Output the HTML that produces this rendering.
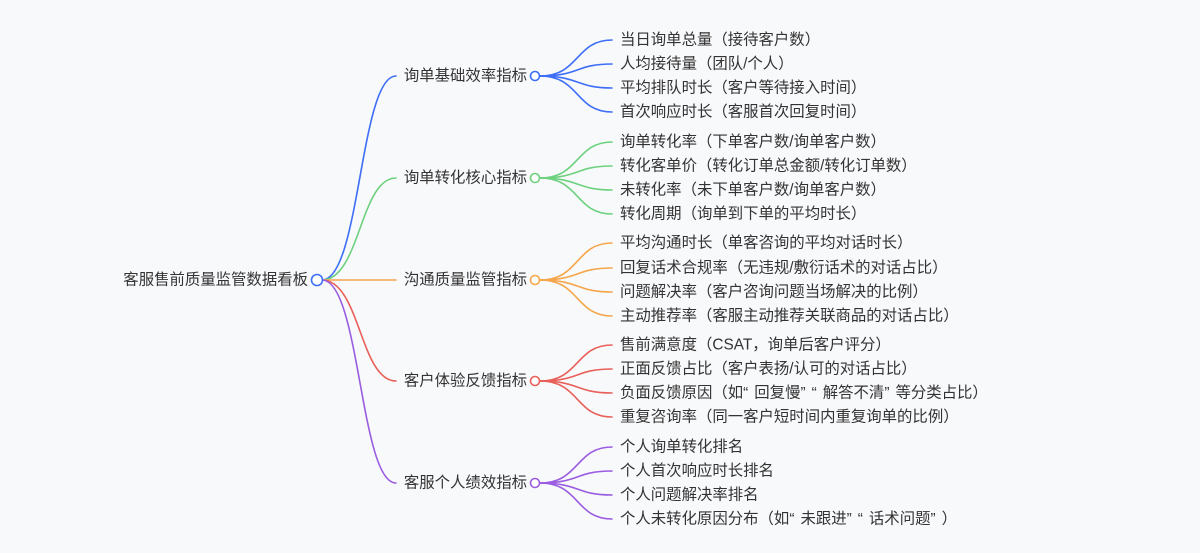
<!DOCTYPE html>
<html><head><meta charset="utf-8"><style>
html,body{margin:0;padding:0;background:#f8f9fb;}
svg{display:block}
text{font-family:"Liberation Sans","Noto Sans CJK SC",sans-serif;font-size:15.4px;fill:#333;dominant-baseline:central}
.q{letter-spacing:6px}
</style></head><body>
<svg width="1200" height="553" viewBox="0 0 1200 553" xmlns="http://www.w3.org/2000/svg">
<g fill="none" stroke-width="1.6" stroke-linecap="round">
<path d="M322 280 C360 280 360 76 396 76" stroke="#3d6ef5"/>
<path d="M322 280 C360 280 360 178 396 178" stroke="#6dd17f"/>
<path d="M322 280 L396 280" stroke="#f5a64a"/>
<path d="M322 280 C360 280 360 381 396 381" stroke="#e9605a"/>
<path d="M322 280 C360 280 360 483 396 483" stroke="#9a5de0"/>
<g stroke="#3d6ef5"><path d="M540 76 C580 76 575 40 612 40"/><path d="M540 76 C580 76 575 64 612 64"/><path d="M540 76 C580 76 575 88 612 88"/><path d="M540 76 C580 76 575 112 612 112"/></g>
<g stroke="#6dd17f"><path d="M540 178 C580 178 575 142 612 142"/><path d="M540 178 C580 178 575 166 612 166"/><path d="M540 178 C580 178 575 190 612 190"/><path d="M540 178 C580 178 575 214 612 214"/></g>
<g stroke="#f5a64a"><path d="M540 280 C580 280 575 243 612 243"/><path d="M540 280 C580 280 575 268 612 268"/><path d="M540 280 C580 280 575 292 612 292"/><path d="M540 280 C580 280 575 316 612 316"/></g>
<g stroke="#e9605a"><path d="M540 381 C580 381 575 345 612 345"/><path d="M540 381 C580 381 575 369 612 369"/><path d="M540 381 C580 381 575 393 612 393"/><path d="M540 381 C580 381 575 417 612 417"/></g>
<g stroke="#9a5de0"><path d="M540 483 C580 483 575 447 612 447"/><path d="M540 483 C580 483 575 471 612 471"/><path d="M540 483 C580 483 575 495 612 495"/><path d="M540 483 C580 483 575 519 612 519"/></g>
</g>
<g fill="#fff" stroke-width="1.6">
<circle cx="317" cy="280" r="5.5" stroke="#3d6ef5"/>
<circle cx="535" cy="76" r="4.5" stroke="#3d6ef5"/>
<circle cx="535" cy="178" r="4.5" stroke="#6dd17f"/>
<circle cx="535" cy="280" r="4.5" stroke="#f5a64a"/>
<circle cx="535" cy="381" r="4.5" stroke="#e9605a"/>
<circle cx="535" cy="483" r="4.5" stroke="#9a5de0"/>
</g>
<text x="308" y="280" text-anchor="end">客服售前质量监管数据看板</text>
<g text-anchor="end">
<text x="527" y="76">询单基础效率指标</text>
<text x="527" y="178">询单转化核心指标</text>
<text x="527" y="280">沟通质量监管指标</text>
<text x="527" y="381">客户体验反馈指标</text>
<text x="527" y="483">客服个人绩效指标</text>
</g>
<g>
<text x="620" y="40">当日询单总量（接待客户数）</text>
<text x="620" y="64">人均接待量（团队/个人）</text>
<text x="620" y="88">平均排队时长（客户等待接入时间）</text>
<text x="620" y="112">首次响应时长（客服首次回复时间）</text>
<text x="620" y="142">询单转化率（下单客户数/询单客户数）</text>
<text x="620" y="166">转化客单价（转化订单总金额/转化订单数）</text>
<text x="620" y="190">未转化率（未下单客户数/询单客户数）</text>
<text x="620" y="214">转化周期（询单到下单的平均时长）</text>
<text x="620" y="243">平均沟通时长（单客咨询的平均对话时长）</text>
<text x="620" y="268">回复话术合规率（无违规/敷衍话术的对话占比）</text>
<text x="620" y="292">问题解决率（客户咨询问题当场解决的比例）</text>
<text x="620" y="316">主动推荐率（客服主动推荐关联商品的对话占比）</text>
<text x="620" y="345">售前满意度（CSAT，询单后客户评分）</text>
<text x="620" y="369">正面反馈占比（客户表扬/认可的对话占比）</text>
<text x="620" y="393">负面反馈原因（如<tspan class="q">“</tspan>回复慢<tspan class="q">”“</tspan>解答不清<tspan class="q">”</tspan>等分类占比）</text>
<text x="620" y="417">重复咨询率（同一客户短时间内重复询单的比例）</text>
<text x="620" y="447">个人询单转化排名</text>
<text x="620" y="471">个人首次响应时长排名</text>
<text x="620" y="495">个人问题解决率排名</text>
<text x="620" y="519">个人未转化原因分布（如<tspan class="q">“</tspan>未跟进<tspan class="q">”“</tspan>话术问题<tspan class="q">”</tspan>）</text>
</g>
</svg>
</body></html>
